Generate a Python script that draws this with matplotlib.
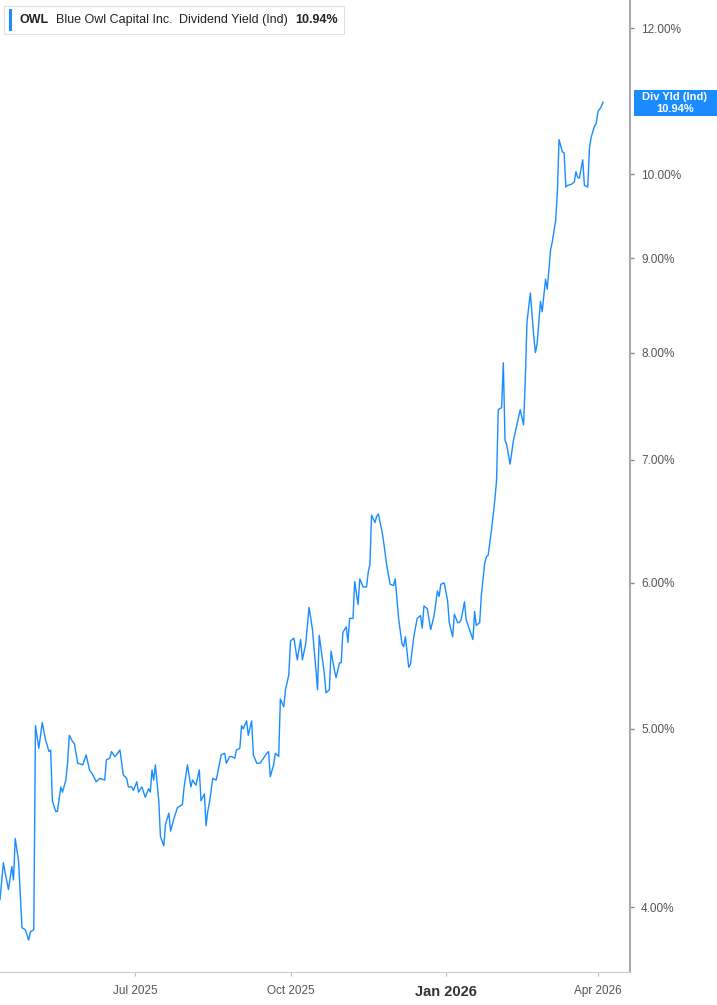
import datetime as dt
import numpy as np
import matplotlib
matplotlib.use("Agg")
import matplotlib.pyplot as plt
import matplotlib.dates as mdates
from matplotlib.ticker import FixedLocator, NullLocator

# day offsets from 2025-07-01 and dividend yield (%)
day_offsets = [-80, -78, -77, -75, -73, -72, -71, -69, -67, -65, -63, -62, -60, -59, -57, -55, -53, -51, -50, -49,
               -47, -46, -44, -43, -41, -40, -39, -37, -36, -34, -31, -29, -27, -25, -23, -21, -18, -17, -15, -14,
               -12, -11, -9, -7, -5, -4, -2, -1, 1, 2, 4, 6, 8, 9, 10, 11, 12, 14, 15, 17,
               18, 20, 21, 23, 25, 28, 29, 31, 33, 34, 36, 38, 39, 41, 42, 43, 44, 46, 48, 50,
               51, 53, 54, 56, 57, 59, 60, 62, 63, 64, 66, 67, 69, 70, 72, 74, 76, 78, 79, 80,
               82, 83, 85, 86, 88, 89, 91, 92, 94, 96, 98, 99, 101, 103, 105, 107, 108, 109, 110, 112,
               113, 115, 116, 118, 119, 121, 122, 123, 125, 126, 127, 129, 130, 132, 133, 135, 137, 138, 139, 140,
               142, 143, 144, 146, 147, 149, 151, 153, 154, 156, 158, 159, 160, 162, 163, 165, 167, 169, 170, 171,
               173, 175, 177, 179, 180, 181, 183, 185, 186, 188, 189, 191, 192, 193, 195, 196, 198, 200, 201, 202,
               204, 205, 207, 208, 209, 211, 212, 213, 214, 215, 217, 218, 219, 220, 222, 224, 226, 228, 230, 231,
               232, 234, 236, 237, 238, 240, 241, 243, 244, 246, 247, 249, 250, 251, 253, 254, 255, 256, 258, 260,
               261, 262, 263, 265, 266, 268, 269, 270, 272, 273, 274, 276, 277]
div_yield = [4.04, 4.23, 4.18, 4.09, 4.21, 4.14, 4.36, 4.24, 3.90, 3.89, 3.84, 3.88, 3.89, 5.02, 4.88, 5.04, 4.93, 4.86, 4.87, 4.57,
             4.51, 4.51, 4.65, 4.62, 4.69, 4.79, 4.96, 4.92, 4.91, 4.79, 4.78, 4.84, 4.75, 4.72, 4.68, 4.70, 4.69, 4.81, 4.82, 4.86,
             4.83, 4.84, 4.87, 4.72, 4.70, 4.65, 4.65, 4.63, 4.68, 4.62, 4.65, 4.59, 4.64, 4.62, 4.75, 4.69, 4.78, 4.57, 4.37, 4.32,
             4.44, 4.50, 4.40, 4.47, 4.53, 4.55, 4.65, 4.78, 4.65, 4.69, 4.66, 4.75, 4.57, 4.61, 4.43, 4.51, 4.56, 4.70, 4.69, 4.79,
             4.84, 4.85, 4.79, 4.83, 4.83, 4.82, 4.87, 4.88, 5.02, 5.00, 5.05, 4.96, 5.05, 4.84, 4.79, 4.79, 4.82, 4.85, 4.86, 4.71,
             4.78, 4.85, 4.83, 5.19, 5.14, 5.25, 5.35, 5.58, 5.60, 5.45, 5.59, 5.45, 5.56, 5.82, 5.66, 5.39, 5.25, 5.62, 5.53, 5.36,
             5.23, 5.25, 5.51, 5.38, 5.33, 5.43, 5.43, 5.64, 5.68, 5.57, 5.74, 5.74, 6.01, 5.84, 6.03, 5.97, 5.97, 6.08, 6.14, 6.53,
             6.47, 6.52, 6.54, 6.41, 6.33, 6.13, 5.99, 5.98, 6.03, 5.74, 5.56, 5.54, 5.61, 5.40, 5.42, 5.61, 5.74, 5.76, 5.67, 5.83,
             5.81, 5.66, 5.76, 5.94, 5.90, 5.99, 6.00, 5.87, 5.71, 5.61, 5.77, 5.71, 5.71, 5.73, 5.86, 5.73, 5.66, 5.59, 5.79, 5.69,
             5.71, 5.91, 6.15, 6.20, 6.21, 6.41, 6.53, 6.66, 6.82, 7.45, 7.47, 7.90, 7.17, 7.13, 6.96, 7.17, 7.31, 7.45, 7.31, 7.73,
             8.31, 8.62, 8.17, 8.00, 8.09, 8.53, 8.42, 8.77, 8.66, 9.10, 9.19, 9.44, 9.78, 10.44, 10.28, 10.27, 9.84, 9.86, 9.87, 9.90,
             10.03, 9.96, 9.95, 10.18, 9.86, 9.84, 10.33, 10.47, 10.62, 10.65, 10.81, 10.88, 10.94]

x_ticks = ["2025-07-01", "2025-10-01", "2026-01-01", "2026-04-01"]
x_tick_labels = ["Jul 2025", "Oct 2025", "Jan 2026", "Apr 2026"]
y_ticks = [4, 5, 6, 7, 8, 9, 10, 12]

base = dt.date(2025, 7, 1)
dates = [base + dt.timedelta(days=d) for d in day_offsets]

plt.rcParams["font.family"] = ["Liberation Sans", "DejaVu Sans"]
BLUE = "#1a8cff"
GREY = "#555555"

fig = plt.figure(figsize=(7.17, 10.05), dpi=100)
ax = fig.add_axes([0, 1 - 972 / 1005, 630 / 717, 972 / 1005])
ax.plot(dates, div_yield, color=BLUE, lw=1.0)

ax.set_yscale("log")
ax.set_ylim(3.69, 12.43)
ax.set_xlim(base + dt.timedelta(days=-80), base + dt.timedelta(days=293))

ax.yaxis.set_major_locator(FixedLocator(y_ticks))
ax.yaxis.set_minor_locator(NullLocator())
ax.set_yticklabels([f"{v:.2f}%" for v in y_ticks])
ax.yaxis.tick_right()
ax.tick_params(axis="y", which="major", length=3, width=1, color="#888888", labelcolor=GREY,
               labelsize=8.5, pad=5, direction="out")

ax.set_xticks([mdates.datestr2num(s) for s in x_ticks])
ax.set_xticklabels(x_tick_labels)
ax.tick_params(axis="x", length=3, color="#bbbbbb", labelcolor=GREY, labelsize=8.5, pad=6)
for lbl in ax.get_xticklabels():
    if lbl.get_text() == "Jan 2026":
        lbl.set_fontweight("bold")
        lbl.set_fontsize(10.5)
        lbl.set_color("#333333")

for s in ["top", "left"]:
    ax.spines[s].set_visible(False)
ax.spines["right"].set_color("#aaaaaa")
ax.spines["right"].set_linewidth(1.5)
ax.spines["bottom"].set_color("#cccccc")

# legend box top-left
fig.patches.append(plt.Rectangle((4 / 717, 1 - 34 / 1005), 340 / 717, 28 / 1005, transform=fig.transFigure,
                                 facecolor="white", edgecolor="#e0e0e0", lw=0.8))
fig.patches.append(plt.Rectangle((9 / 717, 1 - 31 / 1005), 3 / 717, 22 / 1005, transform=fig.transFigure,
                                 facecolor=BLUE, edgecolor="none"))
ty = 1 - 20 / 1005
fig.text(19 / 717, ty, "OWL", fontsize=9, fontweight="bold", color="#222222", va="center")
fig.text(56 / 717, ty, "Blue Owl Capital Inc.", fontsize=9, color="#222222", va="center")
fig.text(179 / 717, ty, "Dividend Yield (Ind)", fontsize=9, color="#222222", va="center")
fig.text(295 / 717, ty, f"{div_yield[-1]:.2f}%", fontsize=9, fontweight="bold", color="#222222", va="center")

# last value label
fig.patches.append(plt.Rectangle((634 / 717, 1 - 116 / 1005), 83 / 717, 26 / 1005, transform=fig.transFigure,
                                 facecolor=BLUE, edgecolor="none"))
fig.text(675 / 717, 1 - 103 / 1005, f"Div Yld (Ind)\n{div_yield[-1]:.2f}%", fontsize=8,
         fontweight="bold", color="white", ha="center", va="center", linespacing=1.15)

fig.savefig("out.png", dpi=100)
